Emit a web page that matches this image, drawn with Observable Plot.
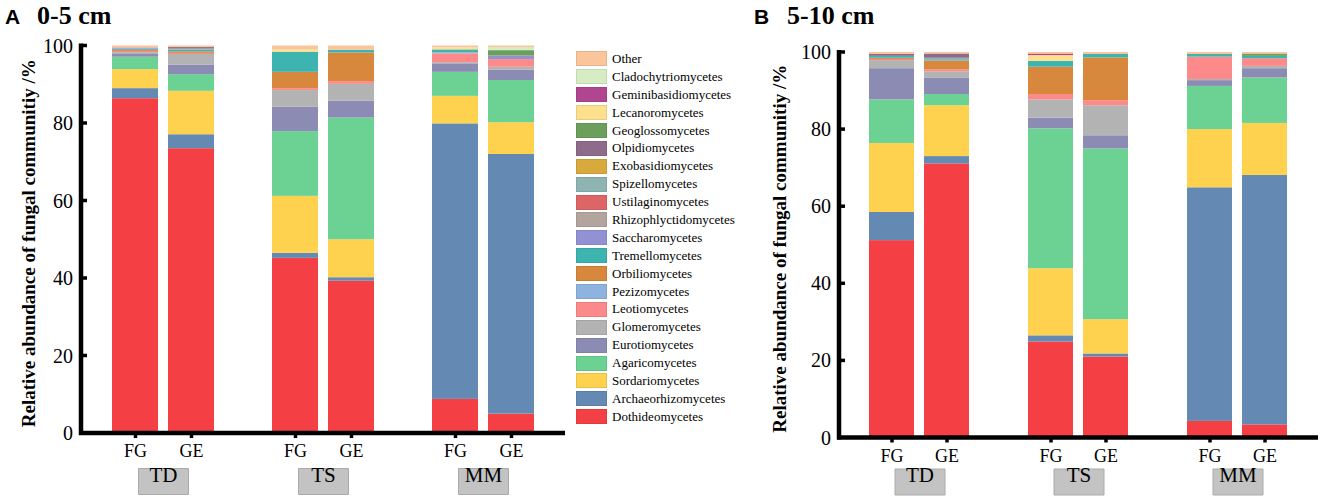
<!DOCTYPE html>
<html>
<head>
<meta charset="utf-8">
<script src="https://cdn.jsdelivr.net/npm/d3@7"></script>
<script src="https://cdn.jsdelivr.net/npm/@observablehq/plot@0.6"></script>
<style>
  body { margin: 0; background: #fff; }
  #wrap { position: relative; width: 1325px; height: 502px; overflow: hidden; background: #fff; font-family: "Liberation Serif", serif; }
  .panel { position: absolute; top: 0; }
  #legend { position: absolute; left: 576px; top: 50px; }
  .row { display: flex; align-items: center; height: 17.9px; }
  .sw { width: 29px; height: 13px; border: 1px solid; margin-right: 5px; box-sizing: content-box; }
  .lab { font-size: 13px; color: #000; white-space: nowrap; font-family: "Liberation Serif", serif; }
</style>
</head>
<body>
<div id="wrap">
  <div id="panelA" class="panel" style="left:0px"></div>
  <div id="legend"></div>
  <div id="panelB" class="panel" style="left:745px"></div>
</div>
<script>
// ---- categories (stack order: bottom -> top) ----
const stackOrder = [
  "Dothideomycetes", "Archaeorhizomycetes", "Sordariomycetes", "Agaricomycetes",
  "Eurotiomycetes", "Glomeromycetes", "Leotiomycetes", "Pezizomycetes",
  "Orbiliomycetes", "Tremellomycetes", "Saccharomycetes", "Rhizophlyctidomycetes",
  "Ustilaginomycetes", "Spizellomycetes", "Exobasidiomycetes", "Olpidiomycetes",
  "Geoglossomycetes", "Lecanoromycetes", "Geminibasidiomycetes", "Cladochytriomycetes",
  "Other"
];
const palette = [
  "#f44044", "#6489b3", "#fed24f", "#6bd294",
  "#8c8bb3", "#b3b3b3", "#fd8a8a", "#8eb3df",
  "#d8883c", "#3eb4b0", "#9291d3", "#b3a59d",
  "#dd6565", "#8db3b3", "#d8a93b", "#8e6b8b",
  "#6c9f5b", "#fde08d", "#b0468f", "#d6ecc2",
  "#fac59b"
];
const sites = ["TD", "TS", "MM"];
const treatments = ["FG", "GE"];
const yTicks = [0, 20, 40, 60, 80, 100];
const yLabel = "Relative abundance of fungal communitiy /%";

// ---- values (%), aligned with stackOrder ----
// Panel A: 0-5 cm
const A_TD_FG = [86.4, 2.6, 4.9, 3.2, 0.7, 0.5, 0.3, 0, 0.3, 0.3, 0.2, 0, 0.1, 0, 0, 0, 0, 0, 0, 0, 0.5];
const A_TD_GE = [73.5, 3.6, 11.2, 4.3, 2.5, 2.7, 0.3, 0, 0.4, 0.4, 0, 0, 0, 0.3, 0, 0.4, 0, 0, 0, 0, 0.4];
const A_TS_FG = [45.2, 1.3, 14.7, 16.7, 6.3, 4.3, 0.5, 0, 4.2, 5.2, 0, 0, 0, 0, 0, 0, 0, 0.6, 0, 0, 1.0];
const A_TS_GE = [39.3, 0.9, 9.8, 31.4, 4.4, 4.3, 0.7, 0, 7.4, 0.7, 0, 0, 0, 0, 0, 0, 0, 0, 0, 0, 1.1];
const A_MM_FG = [8.8, 71.1, 7.1, 6.2, 2.2, 0.3, 2.3, 0.2, 0, 0.8, 0, 0, 0, 0, 0, 0, 0, 0.5, 0, 0, 0.5];
const A_MM_GE = [5.0, 67.0, 8.2, 10.9, 2.7, 0.7, 2.0, 0, 0, 0, 0.9, 0, 0, 0, 0, 0, 1.4, 0, 0, 0.8, 0.4];
// Panel B: 5-10 cm
const B_TD_FG = [51.2, 7.3, 17.9, 11.3, 8.1, 2.1, 0.3, 0, 0.3, 0.5, 0, 0, 0, 0, 0, 0.5, 0, 0, 0, 0, 0.5];
const B_TD_GE = [71.1, 1.9, 13.2, 2.9, 4.3, 1.6, 0.5, 0, 2.2, 0, 0, 0, 0, 0.8, 0, 1.1, 0, 0, 0, 0, 0.4];
const B_TS_FG = [24.9, 1.6, 17.4, 36.3, 2.8, 4.7, 1.4, 0, 7.1, 1.5, 0, 0, 0, 0, 0, 0, 0, 1.5, 0.4, 0, 0.4];
const B_TS_GE = [21.0, 0.8, 8.9, 44.3, 3.4, 7.8, 1.3, 0, 11.1, 0.9, 0, 0, 0, 0, 0, 0, 0, 0, 0, 0, 0.5];
const B_MM_FG = [4.3, 60.6, 15.1, 11.2, 1.5, 0.3, 5.8, 0, 0, 0.7, 0, 0, 0, 0, 0, 0, 0, 0, 0, 0, 0.5];
const B_MM_GE = [3.4, 64.7, 13.5, 11.8, 2.4, 0.6, 2.0, 0, 0, 0.6, 0, 0, 0, 0, 0, 0, 0.6, 0, 0, 0, 0.4];

const barsA = [
  {site: "TD", trt: "FG", vals: A_TD_FG}, {site: "TD", trt: "GE", vals: A_TD_GE},
  {site: "TS", trt: "FG", vals: A_TS_FG}, {site: "TS", trt: "GE", vals: A_TS_GE},
  {site: "MM", trt: "FG", vals: A_MM_FG}, {site: "MM", trt: "GE", vals: A_MM_GE}
];
const barsB = [
  {site: "TD", trt: "FG", vals: B_TD_FG}, {site: "TD", trt: "GE", vals: B_TD_GE},
  {site: "TS", trt: "FG", vals: B_TS_FG}, {site: "TS", trt: "GE", vals: B_TS_GE},
  {site: "MM", trt: "FG", vals: B_MM_FG}, {site: "MM", trt: "GE", vals: B_MM_GE}
];

const boxSymbol = {
  draw(ctx) {
    ctx.moveTo(-25, -13); ctx.lineTo(25, -13); ctx.lineTo(25, 13); ctx.lineTo(-25, 13); ctx.closePath();
  }
};

function panel(cfg) {
  const data = [];
  for (const b of cfg.bars) {
    b.vals.forEach((v, i) => { if (v > 0) data.push({site: b.site, trt: b.trt, cls: stackOrder[i], value: v}); });
  }
  const plot = Plot.plot({
    width: cfg.width, height: 502,
    marginLeft: cfg.mL, marginRight: cfg.mR, marginTop: cfg.mT, marginBottom: cfg.mB,
    style: {fontFamily: '"Liberation Serif", serif', background: "transparent", color: "#000"},
    fx: {domain: sites, paddingInner: cfg.pi, paddingOuter: cfg.po, axis: null, label: null},
    x: {domain: treatments, paddingInner: 0.18, paddingOuter: 0, axis: null, label: null},
    y: {domain: [0, 100], axis: null, label: null},
    color: {domain: stackOrder, range: palette},
    marks: [
      Plot.barY(data, {fx: "site", x: "trt", y: "value", fill: "cls", order: stackOrder}),
      Plot.axisX({anchor: "bottom", tickSize: 5, strokeWidth: 3.5, tickPadding: 6, fontSize: 18, label: null}),
      Plot.dot(sites, {fx: d => d, frameAnchor: "bottom", dy: cfg.boxDy, symbol: boxSymbol, fill: "#c3c3c3", stroke: "#aaaaaa", strokeWidth: 1}),
      Plot.text(sites, {fx: d => d, text: d => d, frameAnchor: "bottom", dy: cfg.boxDy, fontSize: 21, fill: "#000"})
    ]
  });

  const y = plot.scale("y");
  const svg = d3.select(plot);
  const x0 = cfg.mL, x1 = cfg.width - cfg.mR;
  const y0 = y.apply(0), yTop = y.apply(100);
  const g = svg.append("g").attr("text-anchor", "start");
  g.append("line").attr("x1", x0).attr("x2", x0).attr("y1", yTop - 2).attr("y2", y0 + 2)
    .attr("stroke", "#000").attr("stroke-width", 4.5);
  g.append("line").attr("x1", x0 - 2).attr("x2", x1).attr("y1", y0).attr("y2", y0)
    .attr("stroke", "#000").attr("stroke-width", 4.5);
  for (const t of yTicks) {
    const yy = y.apply(t);
    if (t > 0) {
      g.append("line").attr("x1", x0).attr("x2", x0 + 6).attr("y1", yy).attr("y2", yy)
        .attr("stroke", "#000").attr("stroke-width", 3.5);
    }
    g.append("text").attr("x", x0 - 8).attr("y", yy).attr("dy", "0.35em")
      .attr("text-anchor", "end").attr("font-size", 20).attr("fill", "#000").text(t);
  }
  const yc = (y0 + yTop) / 2 + 4;
  g.append("text").attr("transform", `translate(${cfg.ylabX},${yc}) rotate(-90)`)
    .attr("text-anchor", "middle").attr("dy", "0.35em").attr("font-size", 19)
    .attr("font-weight", "bold").attr("fill", "#000").text(yLabel);
  g.append("text").attr("x", cfg.letterX).attr("y", 24).attr("text-anchor", "start")
    .attr("font-family", '"Liberation Sans", Arial, sans-serif')
    .attr("font-weight", "bold").attr("font-size", 21).attr("fill", "#000").text(cfg.letter);
  g.append("text").attr("x", cfg.titleX).attr("y", 24).attr("text-anchor", "start")
    .attr("font-weight", "bold").attr("font-size", 26).attr("fill", "#000").text(cfg.title);
  return plot;
}

document.getElementById("panelA").appendChild(panel({
  bars: barsA, width: 570, mL: 81, mR: 5, mT: 45.5, mB: 69,
  pi: 0.3625, po: 0.19, boxDy: 48, ylabX: 28, letter: "A", letterX: 5, title: "0-5 cm", titleX: 37
}));
document.getElementById("panelB").appendChild(panel({
  bars: barsB, width: 580, mL: 94, mR: 7, mT: 52, mB: 64.5,
  pi: 0.364, po: 0.18, boxDy: 44, ylabX: 34, letter: "B", letterX: 9, title: "5-10 cm", titleX: 42
}));

// legend (top -> bottom is reverse of stack order)
const color = d3.scaleOrdinal(stackOrder, palette);
const leg = d3.select("#legend");
stackOrder.slice().reverse().forEach(c => {
  const row = leg.append("div").attr("class", "row");
  row.append("div").attr("class", "sw")
    .style("background", color(c))
    .style("border-color", d3.color(color(c)).darker(0.25).formatHex());
  row.append("span").attr("class", "lab").text(c);
});
</script>
</body>
</html>
